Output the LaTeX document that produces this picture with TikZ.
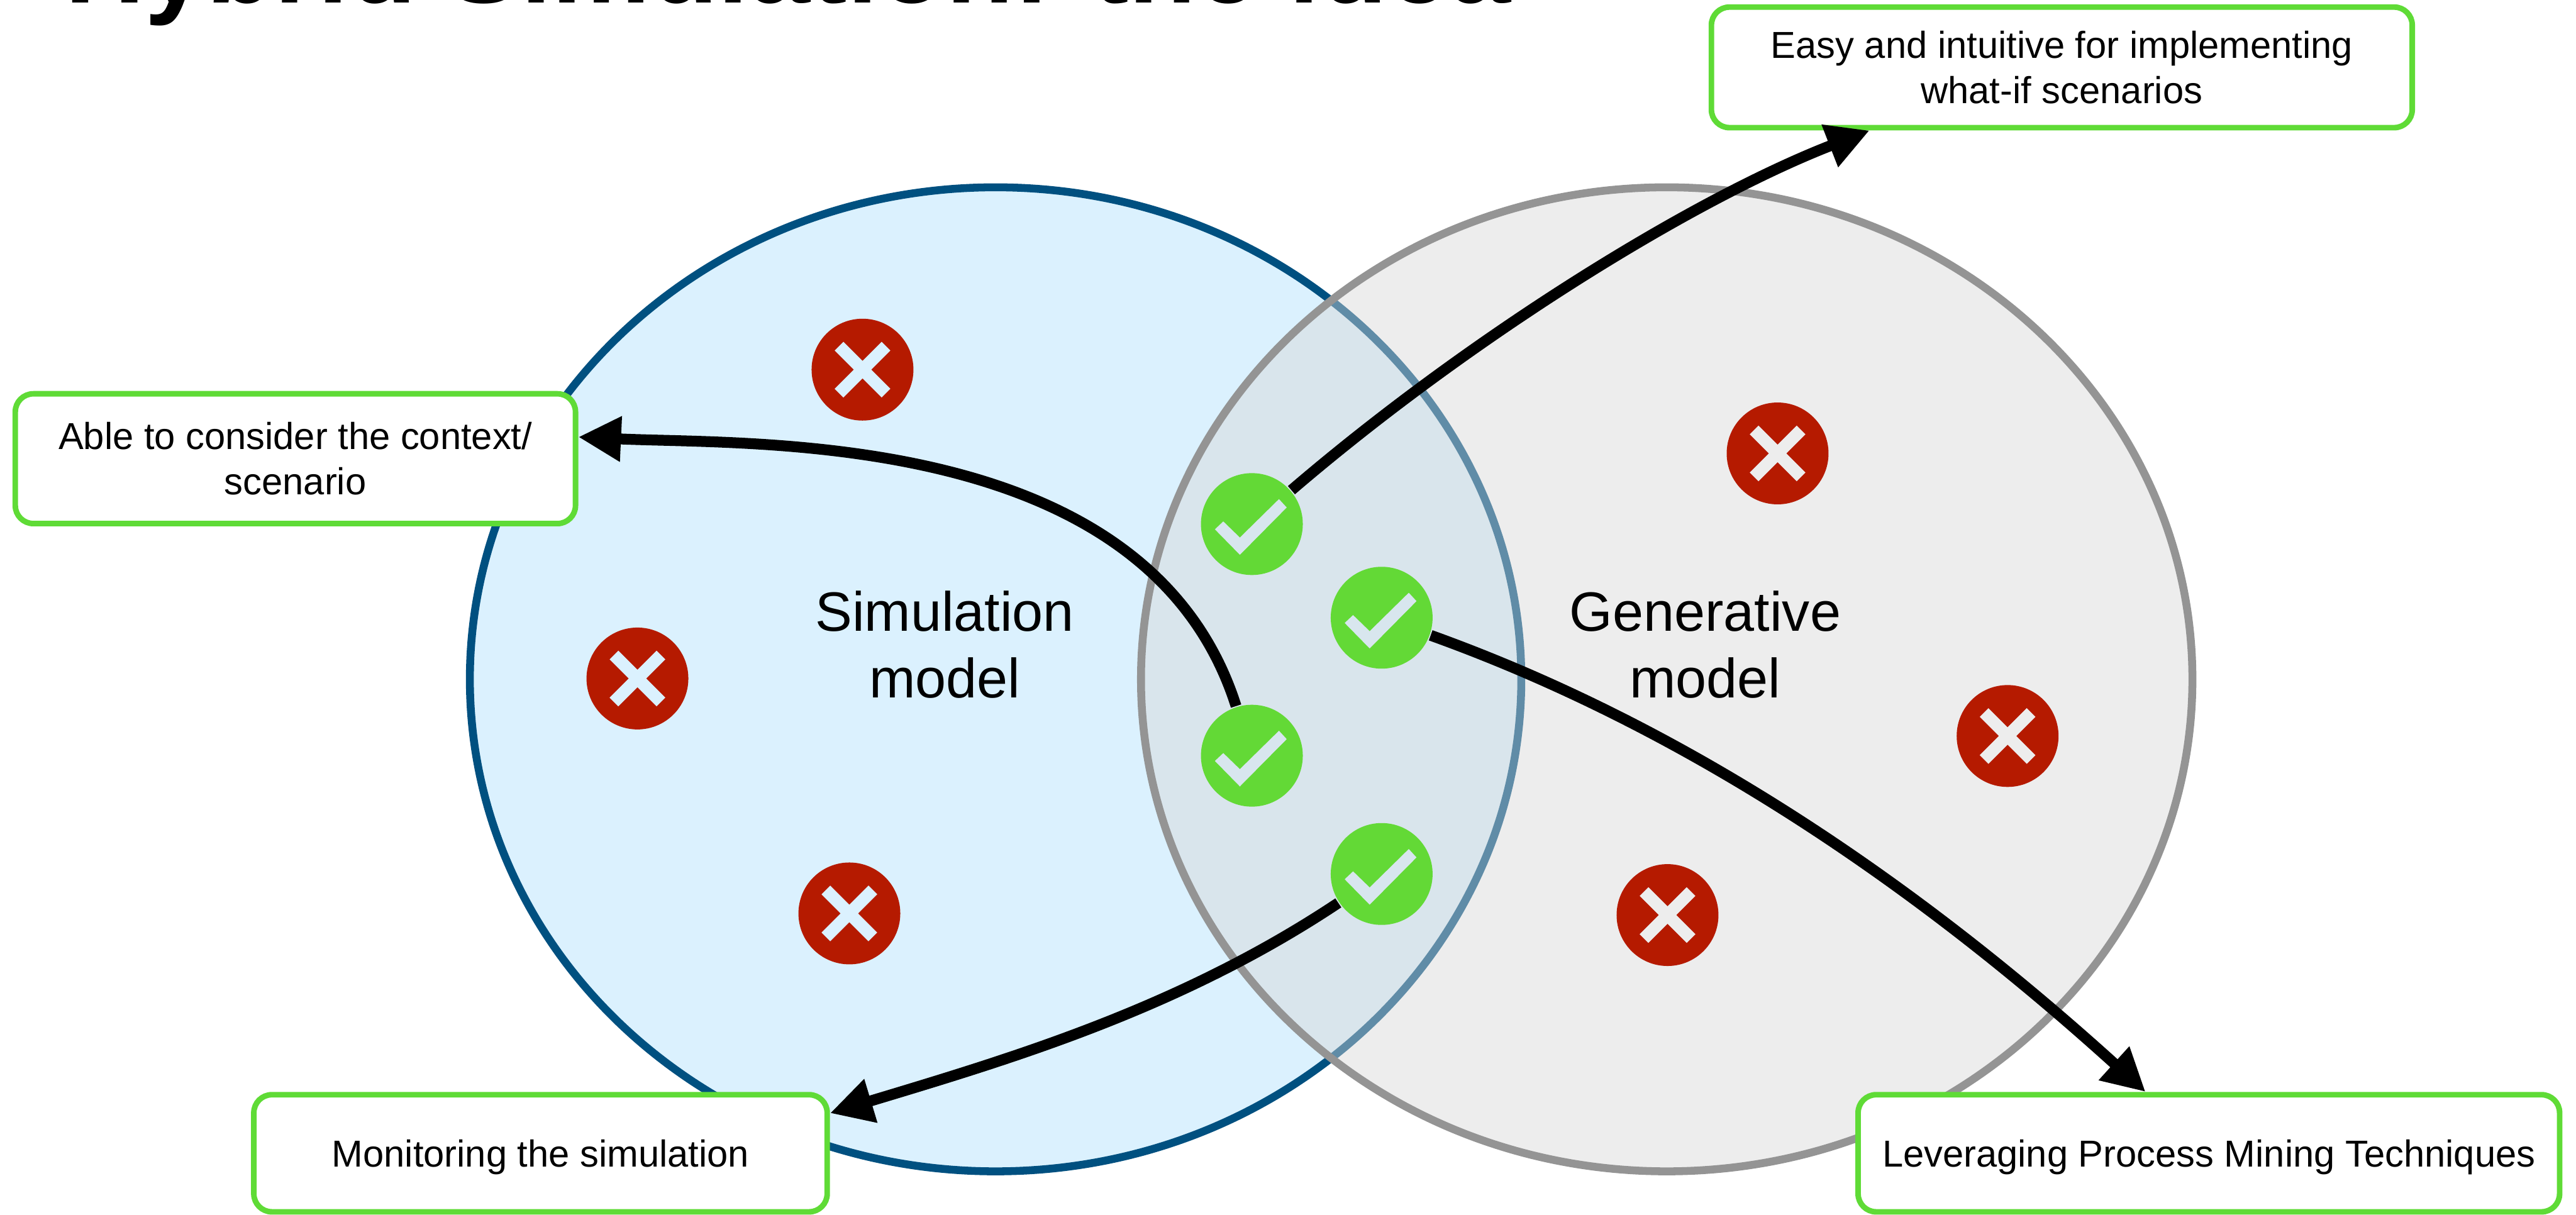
\documentclass[tikz,border=0pt]{standalone}
\usepackage{fontspec}
\setmainfont{Liberation Sans}
\usetikzlibrary{arrows.meta}
\usetikzlibrary{shapes.geometric}

\definecolor{simfill}{HTML}{DBF1FE}
\definecolor{simline}{HTML}{005080}
\definecolor{genveil}{HTML}{D7D7D7}
\definecolor{genfill}{HTML}{EDEDED}
\definecolor{genline}{HTML}{949494}
\definecolor{bothfill}{HTML}{D8E6EE}
\definecolor{okgreen}{HTML}{63D936}
\definecolor{boxgreen}{HTML}{5FDB36}
\definecolor{nored}{HTML}{B51A00}

\tikzset{
  modelcircle/.style={ellipse, inner sep=0pt, line width=.048cm, minimum width=6.40cm, minimum height=5.99cm},
  greenbox/.style={rectangle, draw=boxgreen, fill=white, line width=.034cm, rounded corners=.11cm, align=center,
    inner sep=0pt, font=\fontsize{6.5}{7.9}\selectfont},
  modellabel/.style={align=center, inner sep=0pt, font=\fontsize{9.6}{11.5}\selectfont},
  okdisc/.style={circle, fill=okgreen, inner sep=0pt, minimum size=.62cm},
  nodisc/.style={circle, fill=nored, inner sep=0pt, minimum size=.62cm},
  arrowline/.style={line width=.066cm, -{Triangle[length=.26cm,width=.26cm]}}
}

\begin{document}
\begin{tikzpicture}
\useasboundingbox (0,0) rectangle (15.68,7.393);

\node[anchor=base west, inner sep=0pt, font=\fontsize{19.2}{23}\selectfont\bfseries] (title) at (.39,7.375) {Hybrid Simulation: the idea};

\node[modelcircle, draw=simline, fill=simfill] (sim) at (6.06,3.258) {};
\node[modelcircle, draw=genline, fill=genveil, fill opacity=.45] (gen) at (10.145,3.258) {};

\node[modellabel] (simlabel) at (5.75,3.47) {Simulation\\model};
\node[modellabel] (genlabel) at (10.38,3.47) {Generative\\model};

% the marks are holes, so each takes the colour behind it
\foreach \name/\p/\back in {noa/{(5.25,5.143)}/simfill, nob/{(3.88,3.263)}/simfill, noc/{(5.17,1.833)}/simfill,
    nod/{(10.82,4.633)}/genfill, noe/{(12.22,2.913)}/genfill, nof/{(10.15,1.823)}/genfill} {
  \node[nodisc] (\name) at \p {};
  \draw[\back, line width=.075cm, shift={(\name.center)}] (-.143,-.143) -- (.143,.143) (-.143,.143) -- (.143,-.143);
}

\foreach \name/\p in {oka/{(7.62,2.793)}, okb/{(7.62,4.203)}, okc/{(8.41,3.633)}, okd/{(8.41,2.073)}} {
  \node[okdisc] (\name) at \p {};
  \fill[bothfill, shift={(\name.center)}] (-.225,-.032) -- (-.174,.016) -- (-.073,-.082) -- (.165,.152) -- (.212,.101) -- (-.073,-.187) -- cycle;
}

\node[greenbox, minimum width=3.41cm, minimum height=.79cm] (ctxbox) at (1.798,4.601) {Able to consider the context/\\scenario};
\node[greenbox, minimum width=4.266cm, minimum height=.734cm] (easybox) at (12.55,6.983) {Easy and intuitive for implementing\\what-if scenarios};
\node[greenbox, text depth=0pt, minimum width=3.49cm, minimum height=.713cm] (monbox) at (3.29,.373) {Monitoring the simulation};
\node[greenbox, text depth=0pt, minimum width=4.27cm, minimum height=.713cm] (levbox) at (13.445,.373) {Leveraging Process Mining Techniques};

\draw[arrowline] (oka) .. controls +(-.635,1.995) and +(1.08,-.05) .. ([yshift=.132cm]ctxbox.east);
\draw[arrowline] (okb) .. controls +(1.33,1.14) and +(-1.08,-.42) .. ([xshift=-1.17cm]easybox.south);
\draw[arrowline] (okc) .. controls +(1.975,-.71) and +(-1.27,1.15) .. ([xshift=-.385cm]levbox.north);
\draw[arrowline] (okd) .. controls +(-1.23,-.82) and +(1.095,.33) .. ([yshift=.244cm]monbox.east);
\end{tikzpicture}
\end{document}
